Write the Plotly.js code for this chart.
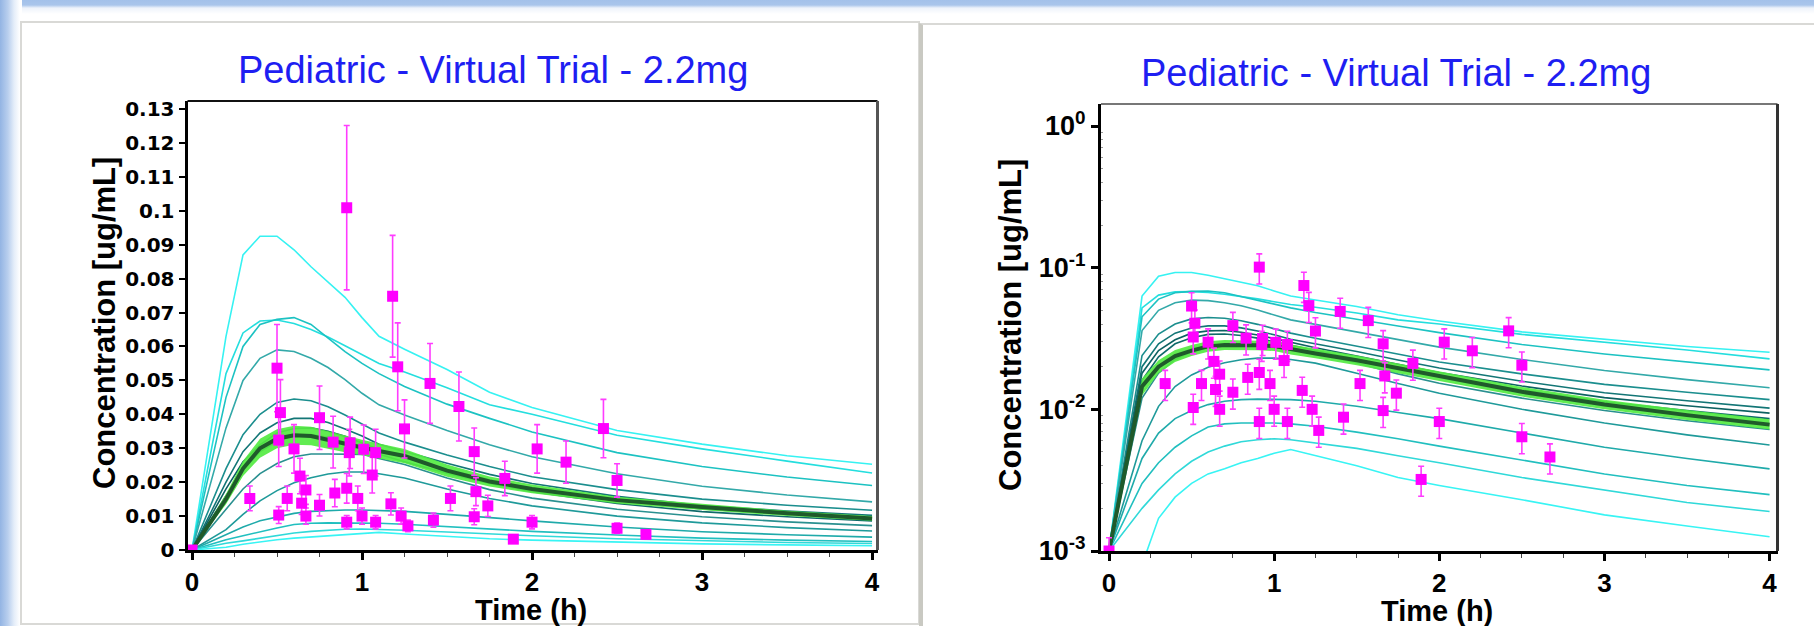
<!DOCTYPE html>
<html>
<head>
<meta charset="utf-8">
<script src="https://cdn.plot.ly/plotly-3.0.1.min.js"></script>
<style>
  html, body { margin: 0; padding: 0; width: 1814px; height: 626px; overflow: hidden; background: #ffffff; }
  .edge-left { position: absolute; left: 0; top: 0; width: 22px; height: 626px;
    background: linear-gradient(to right, #93b4e3 0px, #b9cfee 8px, #e4edf9 14px, #ffffff 20px); }
  .edge-top { position: absolute; left: 0; top: 0; width: 1814px; height: 22px;
    background: linear-gradient(to bottom, #a3c1ea 0px, #a9c5eb 5px, #eef3fb 8px, #ffffff 14px); }
  .card { position: absolute; background: #ffffff; box-sizing: border-box; }
  .card1 { left: 20px; top: 21px; width: 900px; height: 604px; border: 2px solid #d9d9d6; }
  .card2 { left: 919px; top: 23px; width: 900px; height: 610px; border-left: 4px solid #c9c9c2; border-top: 2px solid #d9d9d6; }
  #chart { position: absolute; left: 0; top: 0; width: 1814px; height: 626px; }
</style>
</head>
<body>
<div class="edge-top"></div>
<div class="edge-left"></div>
<div class="card card1"></div>
<div class="card card2"></div>
<div id="chart"></div>
<script>
// ---- simulation time grid (h) ----
const simTime = [0, 0.2, 0.3, 0.4, 0.5, 0.6, 0.7, 0.8, 0.9, 1.0, 1.1, 1.25, 1.5, 1.75, 2.0, 2.5, 3.0, 3.5, 4.0];

// ---- simulated concentration profiles (ug/mL) ----
const sim01 = [0, 0.063, 0.087, 0.0925, 0.0925, 0.0885, 0.0835, 0.079, 0.0745, 0.0685, 0.0630, 0.0592, 0.0532, 0.0465, 0.0420, 0.0352, 0.0312, 0.0278, 0.0253];
const sim02 = [0, 0.052, 0.064, 0.0675, 0.0678, 0.0668, 0.0650, 0.0628, 0.0602, 0.0575, 0.0550, 0.0525, 0.0478, 0.0428, 0.0400, 0.0338, 0.0298, 0.0262, 0.0227];
const sim03 = [0, 0.045, 0.060, 0.0665, 0.0680, 0.0685, 0.0665, 0.0625, 0.0585, 0.0550, 0.0520, 0.0482, 0.0430, 0.0388, 0.0348, 0.0287, 0.0246, 0.0215, 0.0190];
const sim04 = [0, 0.036, 0.050, 0.0565, 0.0590, 0.0585, 0.0565, 0.0538, 0.0502, 0.0462, 0.0428, 0.0398, 0.0352, 0.0310, 0.0275, 0.0225, 0.0188, 0.0162, 0.0142];
const sim05 = [0, 0.024, 0.034, 0.0400, 0.0435, 0.0445, 0.0440, 0.0422, 0.0398, 0.0372, 0.0345, 0.0318, 0.0280, 0.0246, 0.0216, 0.0178, 0.0150, 0.0132, 0.0117];
const sim06 = [0, 0.020, 0.029, 0.0345, 0.0375, 0.0388, 0.0388, 0.0376, 0.0357, 0.0336, 0.0312, 0.0290, 0.0256, 0.0223, 0.0196, 0.0158, 0.0131, 0.0115, 0.0102];
const sim07 = [0, 0.018, 0.026, 0.0310, 0.0345, 0.0358, 0.0360, 0.0350, 0.0335, 0.0316, 0.0296, 0.0272, 0.0238, 0.0207, 0.0182, 0.0146, 0.0121, 0.0106, 0.0094];
const sim08 = [0, 0.016, 0.0235, 0.0290, 0.0320, 0.0338, 0.0340, 0.0332, 0.0318, 0.0300, 0.0282, 0.0260, 0.0226, 0.0196, 0.0172, 0.0137, 0.0113, 0.0098, 0.0086];
const sim09 = [0, 0.012, 0.018, 0.0225, 0.0255, 0.0275, 0.0283, 0.0283, 0.0283, 0.0282, 0.0270, 0.0252, 0.0212, 0.0178, 0.0153, 0.0120, 0.0098, 0.0083, 0.0072];
const sim10 = [0, 0.006, 0.0105, 0.0145, 0.0175, 0.0198, 0.0213, 0.0224, 0.0230, 0.0230, 0.0225, 0.0212, 0.0180, 0.0152, 0.0130, 0.0100, 0.0080, 0.0066, 0.0056];
const sim11 = [0, 0.0045, 0.0068, 0.0086, 0.0098, 0.0108, 0.0114, 0.0117, 0.0118, 0.0118, 0.0117, 0.0114, 0.0105, 0.0095, 0.0086, 0.0068, 0.0054, 0.0045, 0.0038];
const sim12 = [0, 0.0030, 0.0042, 0.0054, 0.0065, 0.0075, 0.0079, 0.0080, 0.0080, 0.0080, 0.0079, 0.0076, 0.0069, 0.0062, 0.0055, 0.0044, 0.0035, 0.0029, 0.0025];
const sim13 = [0, 0.0020, 0.0027, 0.0035, 0.0043, 0.0050, 0.0055, 0.0059, 0.0061, 0.0062, 0.0061, 0.0058, 0.0053, 0.0047, 0.0042, 0.0033, 0.0027, 0.0022, 0.0019];
const sim14 = [0, 0.0008, 0.0017, 0.0024, 0.0030, 0.0035, 0.0038, 0.0042, 0.0045, 0.0049, 0.0052, 0.0047, 0.0040, 0.0033, 0.0029, 0.0023, 0.0018, 0.0015, 0.00126];
const simColors = ['#36f2f2', '#24dede', '#1cc2c2', '#33a9a9', '#1b8e8e', '#137676', '#0d6262', '#0f6a6a', '#2a9090', '#1f9a9a', '#1faaaa', '#21bfbf', '#30d9d9', '#38f4f4'];

// ---- population mean and its band ----
const meanArith = [0, 0.0150, 0.0240, 0.0300, 0.0328, 0.0338, 0.0336, 0.0324, 0.0312, 0.0302, 0.0292, 0.0277, 0.0234, 0.0202, 0.0180, 0.0147, 0.0127, 0.0108, 0.0093];
const arithLow  = [0, 0.0135, 0.0218, 0.0272, 0.0300, 0.0310, 0.0309, 0.0298, 0.0288, 0.0279, 0.0270, 0.0256, 0.0216, 0.0187, 0.0167, 0.0137, 0.0118, 0.0100, 0.0086];
const arithHigh = [0, 0.0165, 0.0262, 0.0328, 0.0356, 0.0366, 0.0363, 0.0350, 0.0336, 0.0325, 0.0314, 0.0298, 0.0252, 0.0217, 0.0193, 0.0157, 0.0136, 0.0116, 0.0100];
const meanGeo   = [0, 0.0145, 0.0200, 0.0238, 0.0260, 0.0278, 0.0285, 0.0285, 0.0283, 0.0280, 0.0265, 0.0248, 0.0222, 0.0195, 0.0172, 0.0133, 0.0108, 0.0091, 0.0078];
const geoLow    = [0, 0.0125, 0.0180, 0.0216, 0.0238, 0.0255, 0.0262, 0.0263, 0.0261, 0.0258, 0.0244, 0.0229, 0.0205, 0.0180, 0.0159, 0.0123, 0.0100, 0.0084, 0.0072];
const geoHigh   = [0, 0.0165, 0.0222, 0.0262, 0.0284, 0.0302, 0.0309, 0.0308, 0.0306, 0.0303, 0.0287, 0.0268, 0.0240, 0.0211, 0.0186, 0.0144, 0.0117, 0.0099, 0.0085];

// ---- observed concentrations ----
const obsTime = [0, 0.34, 0.50, 0.52, 0.51, 0.51, 0.56, 0.60, 0.635, 0.645, 0.67, 0.67, 0.75, 0.75, 0.83, 0.84, 0.91, 0.91, 0.91, 0.93, 0.925, 0.975, 1.00, 1.01, 1.06, 1.08, 1.08, 1.18, 1.17, 1.21, 1.23, 1.25, 1.27, 1.40, 1.42, 1.52, 1.57, 1.66, 1.67, 1.66, 1.74, 1.84, 1.89, 2.00, 2.03, 2.20, 2.42, 2.50, 2.50, 2.67];
const obsConc = [0, 0.0152, 0.0536, 0.0405, 0.0324, 0.0103, 0.0152, 0.0298, 0.0218, 0.0138, 0.0177, 0.0100, 0.0390, 0.0132, 0.0318, 0.0168, 0.1009, 0.0182, 0.0082, 0.0316, 0.0287, 0.0152, 0.0100, 0.0297, 0.0221, 0.0287, 0.0082, 0.0748, 0.0136, 0.0540, 0.0100, 0.0357, 0.0071, 0.0491, 0.0088, 0.0152, 0.0423, 0.0290, 0.0172, 0.0098, 0.0130, 0.0211, 0.0032, 0.0082, 0.0298, 0.0259, 0.0358, 0.0205, 0.0064, 0.0046];
const obsErrorPct = 24;

// ---- tick labels ----
const timeTicks = [0, 1, 2, 3, 4];
const linTickVals = [0, 0.01, 0.02, 0.03, 0.04, 0.05, 0.06, 0.07, 0.08, 0.09, 0.1, 0.11, 0.12, 0.13];
const linTickText = ['0', '0.01', '0.02', '0.03', '0.04', '0.05', '0.06', '0.07', '0.08', '0.09', '0.1', '0.11', '0.12', '0.13'];
const logTickVals = [0.001, 0.01, 0.1, 1];
const logTickText = ['10<sup>-3</sup>', '10<sup>-2</sup>', '10<sup>-1</sup>', '10<sup>0</sup>'];

const chartTitle = 'Pediatric - Virtual Trial - 2.2mg';
const yTitle = 'Concentration [ug/mL]';
const xTitle = 'Time (h)';

// ---- page geometry (px) ----
const W = 1814, H = 626;
const px = v => v / W;
const py = v => 1 - v / H;

const ARIAL = 'Liberation Sans, Arial, Helvetica, sans-serif';
const VERA = 'DejaVu Sans, Verdana, sans-serif';
const BAND = 'rgba(84, 234, 66, 0.92)';
const MEAN = '#1f5a2b';
const OBS = '#ff00ff';

const linRangeY = [0, 0.13236];
const logRangeY = [-3, 0.1553];
const LOG_FLOOR = Math.pow(10, logRangeY[0]);

const sims = [sim01, sim02, sim03, sim04, sim05, sim06, sim07, sim08, sim09, sim10, sim11, sim12, sim13, sim14];
const traces = [];

function addPanel(xa, ya, isLog) {
  // zero concentrations sit on the lower edge of the log axis
  const fix = isLog ? (v => (v > 0 ? v : LOG_FLOOR)) : (v => v);
  const common = { xaxis: xa, yaxis: ya, hoverinfo: 'skip', showlegend: false };
  sims.forEach((s, i) => {
    traces.push(Object.assign({ type: 'scatter', mode: 'lines', x: simTime, y: s.map(fix),
      line: { color: simColors[i], width: 1.6 } }, common));
  });
  const lo = isLog ? geoLow : arithLow;
  const hi = isLog ? geoHigh : arithHigh;
  const mean = isLog ? meanGeo : meanArith;
  traces.push(Object.assign({ type: 'scatter', mode: 'lines', x: simTime, y: lo.map(fix),
    line: { width: 0, color: BAND } }, common));
  traces.push(Object.assign({ type: 'scatter', mode: 'lines', x: simTime, y: hi.map(fix),
    fill: 'tonexty', fillcolor: BAND, line: { width: 0, color: BAND } }, common));
  traces.push(Object.assign({ type: 'scatter', mode: 'lines', x: simTime, y: mean.map(fix),
    line: { color: MEAN, width: 4 } }, common));
  traces.push(Object.assign({ type: 'scatter', mode: 'markers', x: obsTime, y: obsConc.map(fix),
    marker: { symbol: 'square', size: 11, color: OBS },
    error_y: { type: 'percent', value: obsErrorPct, color: '#ff3cff', thickness: 1.6, width: 3 } }, common));
}

addPanel('x', 'y', false);
addPanel('x2', 'y2', true);

const tickX = { family: ARIAL, size: 26, color: '#000', weight: 700 };

function timeAxis(domain, range) {
  return {
    domain: domain, range: range, showgrid: false, zeroline: false,
    showline: true, linecolor: '#000', linewidth: 3,
    tickmode: 'array', tickvals: timeTicks, ticktext: timeTicks.map(String),
    ticks: 'outside', ticklen: 7, tickwidth: 3, tickcolor: '#000',
    tickfont: tickX,
    minor: { tickmode: 'linear', tick0: 0, dtick: 0.25, ticks: 'outside', ticklen: 4, tickwidth: 1, tickcolor: '#444', showgrid: false },
    fixedrange: true
  };
}

const logMinor = [];
for (let e = -3; e < 0; e++) for (let m = 2; m <= 9; m++) logMinor.push(m * Math.pow(10, e));

const layout = {
  width: W, height: H, autosize: false,
  margin: { l: 0, r: 0, t: 0, b: 0, pad: 0 },
  paper_bgcolor: 'rgba(0,0,0,0)', plot_bgcolor: 'rgba(0,0,0,0)',
  font: { family: ARIAL, color: '#000' },
  showlegend: false,
  xaxis: Object.assign(timeAxis([px(187.5), px(877.5)], [-0.0265, 4.032]), { anchor: 'y' }),
  yaxis: {
    anchor: 'x', domain: [py(550), py(101)], range: linRangeY,
    showgrid: false, zeroline: false, showline: true, linecolor: '#000', linewidth: 3,
    tickmode: 'array', tickvals: linTickVals, ticktext: linTickText,
    ticks: 'outside', ticklen: 6, tickwidth: 2, tickcolor: '#000',
    tickfont: { family: VERA, size: 20, color: '#000', weight: 700 },
    fixedrange: true
  },
  xaxis2: Object.assign(timeAxis([px(1101), px(1777.5)], [-0.0485, 4.048]), { anchor: 'y2' }),
  yaxis2: {
    anchor: 'x2', type: 'log', domain: [py(551), py(104)], range: logRangeY,
    showgrid: false, zeroline: false, showline: true, linecolor: '#000', linewidth: 3,
    tickmode: 'array', tickvals: logTickVals, ticktext: logTickText,
    ticks: 'outside', ticklen: 7, tickwidth: 3, tickcolor: '#000',
    tickfont: { family: ARIAL, size: 27, color: '#000', weight: 700 },
    minor: { tickmode: 'array', tickvals: logMinor, ticks: 'inside', ticklen: 2, tickwidth: 1, tickcolor: '#999', showgrid: false },
    fixedrange: true
  },
  shapes: [
    { type: 'line', xref: 'x domain', yref: 'y domain', x0: 0, x1: 1, y0: 1, y1: 1, line: { color: '#111', width: 2 } },
    { type: 'line', xref: 'x domain', yref: 'y domain', x0: 1, x1: 1, y0: 0, y1: 1, line: { color: '#555', width: 3 } },
    { type: 'line', xref: 'x2 domain', yref: 'y2 domain', x0: 0, x1: 1, y0: 1, y1: 1, line: { color: '#777', width: 2 } },
    { type: 'line', xref: 'x2 domain', yref: 'y2 domain', x0: 1, x1: 1, y0: 0, y1: 1, line: { color: '#333', width: 3 } }
  ],
  annotations: [
    { text: chartTitle, xref: 'paper', yref: 'paper', x: px(493), y: py(70), xanchor: 'center', yanchor: 'middle', showarrow: false,
      font: { family: ARIAL, size: 38, color: '#1e1ef2' } },
    { text: chartTitle, xref: 'paper', yref: 'paper', x: px(1395.5), y: py(73), xanchor: 'center', yanchor: 'middle', showarrow: false,
      font: { family: ARIAL, size: 38, color: '#1e1ef2' } },
    { text: yTitle, xref: 'paper', yref: 'paper', x: px(104), y: py(323), xanchor: 'center', yanchor: 'middle', textangle: -90, showarrow: false,
      font: { family: ARIAL, size: 31, color: '#000', weight: 700 } },
    { text: yTitle, xref: 'paper', yref: 'paper', x: px(1010), y: py(325), xanchor: 'center', yanchor: 'middle', textangle: -90, showarrow: false,
      font: { family: ARIAL, size: 31, color: '#000', weight: 700 } },
    { text: xTitle, xref: 'paper', yref: 'paper', x: px(531), y: py(592), xanchor: 'center', yanchor: 'top', showarrow: false,
      font: { family: ARIAL, size: 29, color: '#000', weight: 700 } },
    { text: xTitle, xref: 'paper', yref: 'paper', x: px(1437), y: py(593), xanchor: 'center', yanchor: 'top', showarrow: false,
      font: { family: ARIAL, size: 29, color: '#000', weight: 700 } }
  ]
};

Plotly.newPlot('chart', traces, layout, { staticPlot: true, displayModeBar: false });
</script>
</body>
</html>
